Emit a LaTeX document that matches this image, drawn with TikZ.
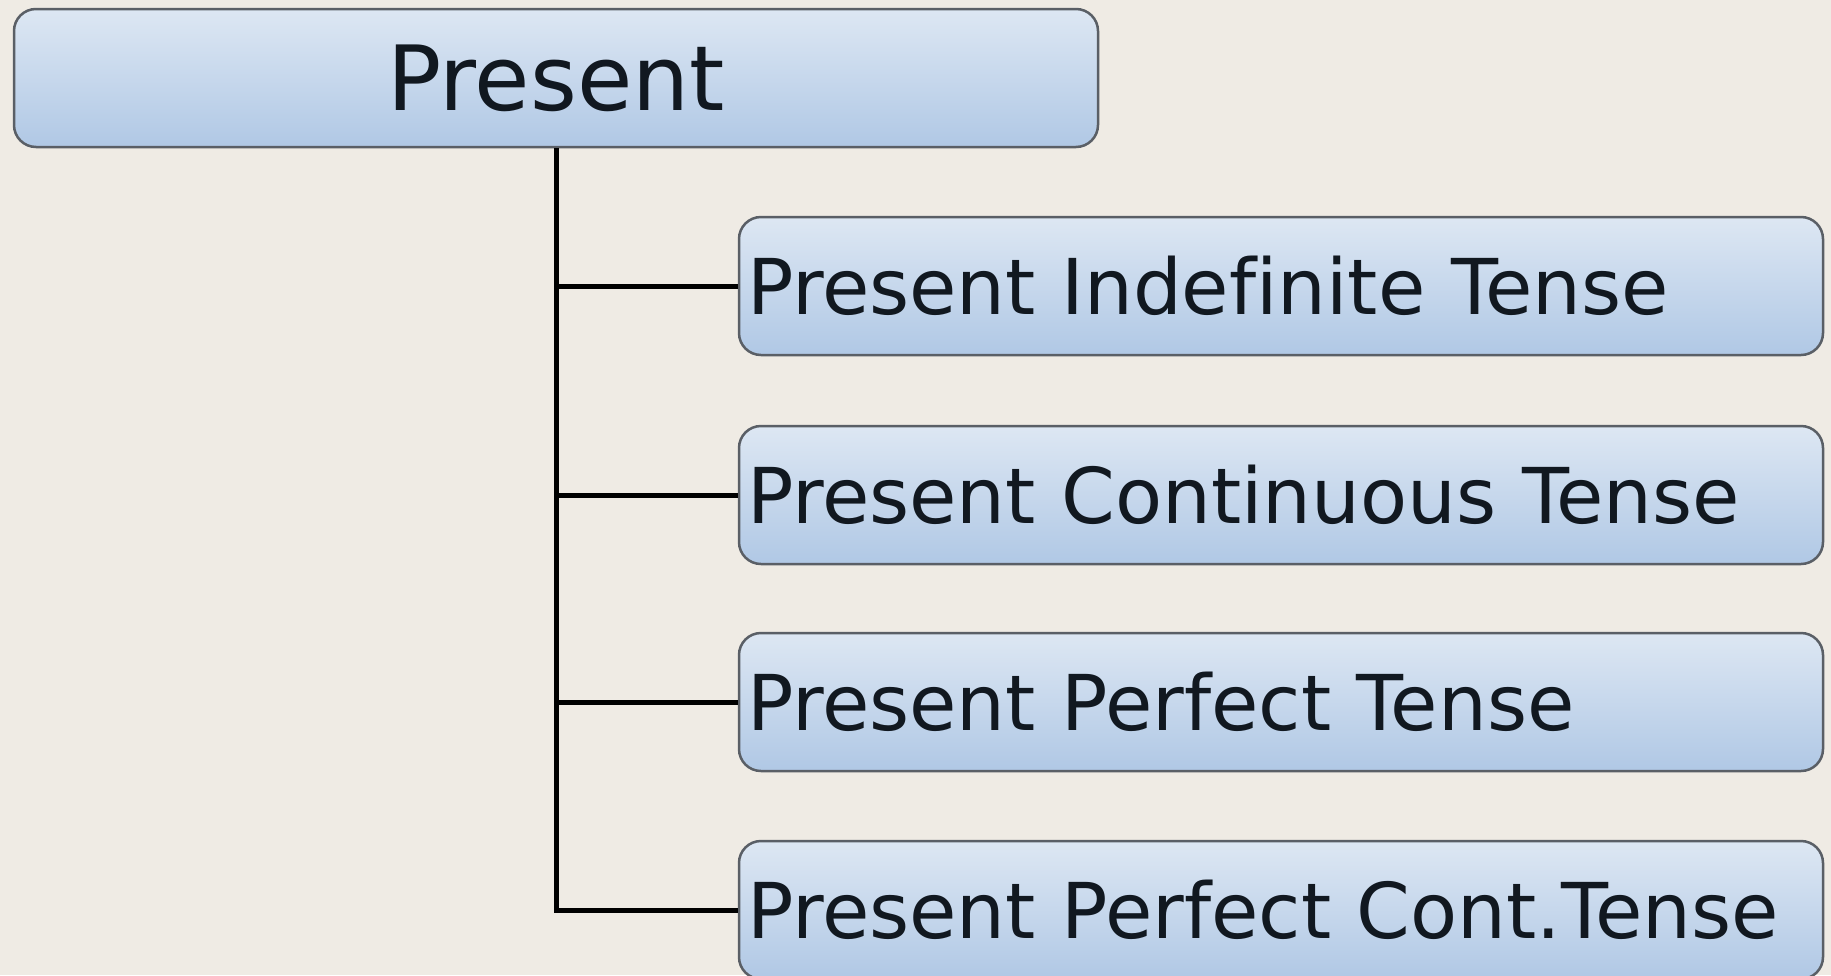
\documentclass[tikz,border=0pt]{standalone}
\usepackage{fontspec}
\setmainfont{DejaVu Sans}
\newfontfamily\boxfont[WordSpace=1.27, Ligatures=NoCommon]{DejaVu Sans}
\usetikzlibrary{positioning}
\definecolor{paper}{HTML}{EFEBE4}
\definecolor{boxtop}{HTML}{DDE7F3}
\definecolor{boxbot}{HTML}{B0C8E5}
\definecolor{rim}{HTML}{5A5F66}
\definecolor{ink}{HTML}{111820}
\tikzset{
  head/.style={draw=rim, line width=2.5pt, rounded corners=22pt, top color=boxtop, bottom color=boxbot,
    minimum width=1084pt, minimum height=138pt, inner sep=0pt, text=ink, font=\boxfont\fontsize{90}{100}\selectfont},
  kind/.style={draw=rim, line width=2.5pt, rounded corners=22pt, top color=boxtop, bottom color=boxbot,
    text width=1068pt, align=left, inner xsep=8pt, inner ysep=0pt, minimum height=138pt, text=ink,
    font=\boxfont\fontsize{77}{90}\selectfont},
  link/.style={draw=black, line width=5pt},
}
\begin{document}
\begin{tikzpicture}[x=1pt,y=-1pt]
  \fill[paper] (0,0) rectangle (1831,975);
  \useasboundingbox (0,0) rectangle (1831,975);
  % root
  \node[head] (pres) at (556,78) {Present};
  % the four tenses
  \node[kind] (indef) at (1281,286) {Present Indefinite Tense};
  \node[kind] (cont)  at (1281,495) {Present Continuous Tense};
  \node[kind] (perf)  at (1281,702) {Present Perfect Tense};
  \node[kind] (pcont) at (1281,910) {Present Perfect Cont.Tense};
  % tree lines
  \draw[link] (pres.south) |- (indef.west);
  \draw[link] (pres.south) |- (cont.west);
  \draw[link] (pres.south) |- (perf.west);
  \draw[link] (pres.south) |- (pcont.west);
\end{tikzpicture}
\end{document}
